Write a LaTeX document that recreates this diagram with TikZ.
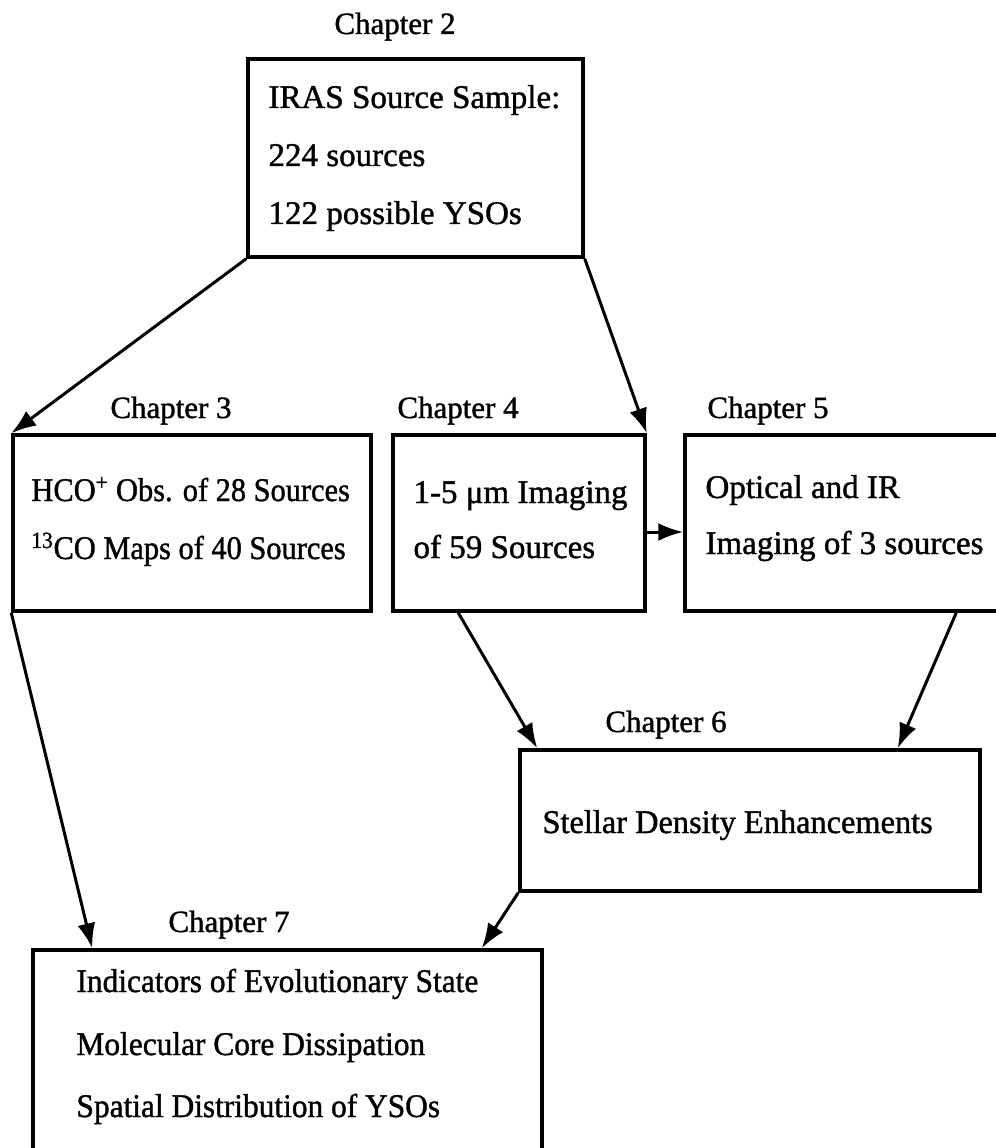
\documentclass[tikz,border=0pt]{standalone}
\usepackage{graphicx}
\usepackage{fontspec}
\setmainfont{Liberation Serif}[FakeBold=1.2]
\usetikzlibrary{arrows.meta, calc}

\begin{document}
\begin{tikzpicture}[x=0.2mm, y=-0.2mm, >={Latex[length=5mm, width=3.6mm]}, line width=0.6mm,
    chapbox/.style={draw, rectangle, inner sep=0pt, line width=0.7mm},
    chaplabel/.style={anchor=base, inner sep=0pt, font=\fontsize{17.6}{20}\selectfont},
    boxtext/.style={anchor=base west, inner sep=0pt, font=\fontsize{18.8}{22}\selectfont}]
    \useasboundingbox (0,0) rectangle (995,1148);

    % Boxes
    \node [chapbox, minimum width=67mm,    minimum height=39.6mm] (box2) at (415.5, 158)  {};
    \node [chapbox, minimum width=71.6mm,  minimum height=35.2mm] (box3) at (192, 523)    {};
    \node [chapbox, minimum width=50.4mm,  minimum height=35.2mm] (box4) at (519, 523)    {};
    \node [chapbox, minimum width=65mm,    minimum height=35.2mm] (box5) at (847.5, 523)  {};
    \node [chapbox, minimum width=92mm,    minimum height=28.2mm] (box6) at (750, 820.5)  {};
    \node [chapbox, minimum width=101.8mm, minimum height=40mm]   (box7) at (287.5, 1050) {};

    % Chapter labels
    \node [chaplabel] (lab2) at (395, 34)  {Chapter 2};
    \node [chaplabel] (lab3) at (171, 418) {Chapter 3};
    \node [chaplabel] (lab4) at (458, 418) {Chapter 4};
    \node [chaplabel] (lab5) at (768, 418) {Chapter 5};
    \node [chaplabel] (lab6) at (666, 732) {Chapter 6};
    \node [chaplabel] (lab7) at (229, 932) {Chapter 7};

    % Box texts
    \node [boxtext] (t2a) at (267, 108) {IRAS Source Sample:};
    \node [boxtext] (t2b) at (267, 166) {224 sources};
    \node [boxtext] (t2c) at (267, 224) {122 possible YSOs};
    \node [boxtext] (t3a) at (30, 501)  {\scalebox{0.92}[1]{HCO\textsuperscript{+} Obs. of 28 Sources}};
    \node [boxtext] (t3b) at (30, 559)  {\scalebox{0.92}[1]{\textsuperscript{13}CO Maps of 40 Sources}};
    \node [boxtext] (t4a) at (412, 503) {1-5 μm Imaging};
    \node [boxtext] (t4b) at (412, 558) {of 59 Sources};
    \node [boxtext] (t5a) at (704, 498) {Optical and IR};
    \node [boxtext] (t5b) at (704, 554) {Imaging of 3 sources};
    \node [boxtext] (t6)  at (541, 833) {\scalebox{0.98}[1]{Stellar Density Enhancements}};
    \node [boxtext] (t7a) at (75, 992)  {\scalebox{0.95}[1]{Indicators of Evolutionary State}};
    \node [boxtext] (t7b) at (75, 1055) {\scalebox{0.95}[1]{Molecular Core Dissipation}};
    \node [boxtext] (t7c) at (75, 1117) {\scalebox{0.95}[1]{Spatial Distribution of YSOs}};

    % Edges
    \draw[->] (box2.south west) -- (box3.north west);
    \draw[->] (box2.south east) -- (box4.north east);
    \draw[->] ($(box4.east)+(0,9)$) -- ($(box5.west)+(0,9)$);
    \draw[->] ($(box4.south west)+(67,0)$) -- ($(box6.north west)+(19,0)$);
    \draw[->] ($(box5.south west)+(273,0)$) -- ($(box6.north east)+(-84,0)$);
    \draw[->] (box3.south west) -- ($(box7.north west)+(61,0)$);
    \draw[->] (box6.south west) -- ($(box7.north east)+(-62,0)$);

\end{tikzpicture}
\end{document}
